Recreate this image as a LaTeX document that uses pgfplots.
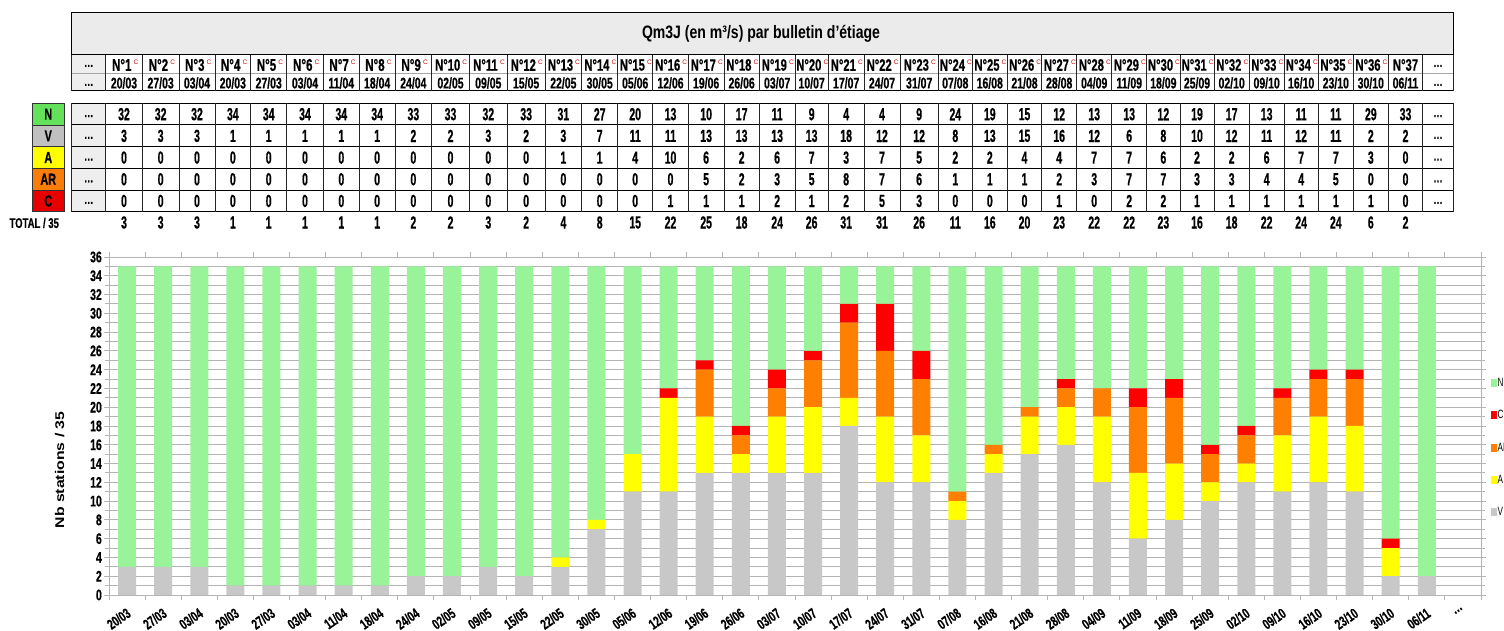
\documentclass[border=0pt]{standalone}
\usepackage{fontspec}
\setmainfont{Liberation Sans}
\newfontfamily\fA[FakeStretch=0.6, BoldFeatures={FakeBold=0.6}]{Liberation Sans}
\newfontfamily\fB[FakeStretch=0.68, BoldFeatures={FakeBold=0.5}]{Liberation Sans}
\newfontfamily\fC[FakeStretch=0.78]{Liberation Sans}
\usepackage{graphicx}
\usepackage{pgfplots}
\usepackage{pgfplotstable}
\pgfplotsset{compat=1.18}

\definecolor{cN}{RGB}{153,243,153}
\definecolor{cV}{RGB}{200,200,200}
\definecolor{cA}{RGB}{255,255,0}
\definecolor{cAR}{RGB}{255,128,0}
\definecolor{cC}{RGB}{255,0,0}
\definecolor{lN}{RGB}{100,225,90}
\definecolor{lV}{RGB}{192,192,192}
\definecolor{lA}{RGB}{255,255,0}
\definecolor{lAR}{RGB}{250,125,10}
\definecolor{lC}{RGB}{230,0,0}
\definecolor{tgray}{RGB}{235,235,235}
\definecolor{dgray}{RGB}{238,238,238}
\definecolor{gridc}{RGB}{180,180,180}
\newcommand{\tdots}{.\kern0.5pt.\kern0.5pt.}

\pgfplotstableread{
i cx d N V A AR C
0 124.0 20/03 32 3 0 0 0
1 160.65 27/03 32 3 0 0 0
2 197.0 03/04 32 3 0 0 0
3 232.85 20/03 34 1 0 0 0
4 268.7 27/03 34 1 0 0 0
5 305.0 03/04 34 1 0 0 0
6 341.3 11/04 34 1 0 0 0
7 377.15 18/04 34 1 0 0 0
8 413.35 24/04 33 2 0 0 0
9 450.5 02/05 33 2 0 0 0
10 488.3 09/05 32 3 0 0 0
11 526.15 15/05 33 2 0 0 0
12 563.35 22/05 31 3 1 0 0
13 599.7 30/05 27 7 1 0 0
14 635.2 05/06 20 11 4 0 0
15 670.5 12/06 13 11 10 0 1
16 706.15 19/06 10 13 6 5 1
17 741.65 26/06 17 13 2 2 1
18 777.15 03/07 11 13 6 3 2
19 811.65 10/07 9 13 7 5 1
20 846.15 17/07 4 18 3 8 2
21 882.0 24/07 4 12 7 7 5
22 919.15 31/07 9 12 5 6 3
23 955.3 07/08 24 8 2 1 0
24 989.8 16/08 19 13 2 1 0
25 1024.5 21/08 15 15 4 1 0
26 1059.2 28/08 12 16 4 2 1
27 1094.2 04/09 13 12 7 3 0
28 1129.2 11/09 13 6 7 7 2
29 1163.35 18/09 12 8 6 7 2
30 1197.0 25/09 19 10 2 3 1
31 1231.65 02/10 17 12 2 3 1
32 1266.65 09/10 13 11 6 4 1
33 1301.15 16/10 11 12 7 4 1
34 1335.8 23/10 11 11 7 5 1
35 1370.8 30/10 29 2 3 0 1
36 1405.5 06/11 33 2 0 0 0
}\data

\begin{document}
\begin{tikzpicture}[x=1pt,y=1pt]
% ---------------- top table (y measured downward) ----------------
\begin{scope}[shift={(0pt,631pt)}, yscale=-1]
  \fill[tgray] (71.7,13) rectangle (1453.3,55);
  \draw[black, line width=1pt] (71.7,55) -- (71.7,13) -- (1453.3,13) -- (1453.3,55);
  \node[font=\fC\bfseries\fontsize{18}{20}\selectfont] at (761,34) {Qm3J (en m³/s) par bulletin d’étiage};
  \fill[dgray] (71.7,55) rectangle (105.7,90.7);
  \draw[black!35, line width=0.8pt] (71.7,73) -- (1453.3,73);
  \draw[black, line width=1pt] (71.7,55) -- (1453.3,55);
  \draw[black, line width=1.2pt] (71.7,90.7) -- (1453.3,90.7);
  \fill[dgray] (71.7,103.3) rectangle (105.7,212);
  \foreach \yy in {103.3,125,146.7,168.4,190.1,212}
    \draw[black, line width=1pt] (71.7,\yy) -- (1453.3,\yy);
  \foreach \xx in {71.7,105.7,142.3,179,215,250.7,286.7,323.3,359.3,395,431.7,469.3,507.3,545,581.7,617.7,652.7,688.3,724,759.3,795,828.3,864,900,938.3,972.3,1007.3,1041.7,1076.7,1111.7,1146.7,1180,1214,1249.3,1284,1318.3,1353.3,1388.3,1422.7,1453.3}{
    \draw[black!85, line width=1pt] (\xx,55) -- (\xx,90.7);
    \draw[black!85, line width=1pt] (\xx,103.3) -- (\xx,212);
  }
  \foreach \yy in {64,83,114.2,135.9,157.6,179.3,201}{
    \node[font=\fB\bfseries\fontsize{13}{14}\selectfont] at (88.7,\yy+2) {\tdots};
    \node[font=\fB\bfseries\fontsize{13}{14}\selectfont] at (1438,\yy+2) {\tdots};
  }
  \foreach \lab/\col/\yy in {N/lN/103.3, V/lV/125, A/lA/146.7, AR/lAR/168.4, C/lC/190.1}{
    \filldraw[fill=\col, draw=black!80, line width=0.8pt] (32.5,\yy) rectangle (64,\yy+21.7);
    \node[font=\fB\bfseries\fontsize{16}{17}\selectfont] at (48.25,\yy+10.85) {\lab};
  }
  \node[anchor=west, font=\fB\bfseries\fontsize{14}{15}\selectfont] at (6,223) {TOTAL / 35};
  \foreach \i in {0,...,36}{
    \pgfplotstablegetelem{\i}{cx}\of\data \edef\cx{\pgfplotsretval}
    \pgfplotstablegetelem{\i}{d}\of\data \edef\dd{\pgfplotsretval}
    \pgfmathtruncatemacro\k{\i+1}
    \ifnum\i<9
      \node[font=\fB\bfseries\fontsize{17}{18}\selectfont] at (\cx-2.2,65) {N°\k};
      \node[text=red!80!black, font=\fontsize{6.5}{7}\selectfont] at (\cx+12,62.5) {C};
    \else\ifnum\i<36
      \node[font=\fB\bfseries\fontsize{16.5}{18}\selectfont] at (\cx-2.8,65) {N°\k};
      \node[text=red!80!black, font=\fontsize{6.5}{7}\selectfont, inner sep=0pt] at (\cx+14.2,62.5) {C};
    \else
      \node[font=\fB\bfseries\fontsize{16.5}{18}\selectfont] at (\cx,65) {N°\k};
    \fi\fi
    \node[font=\fB\bfseries\fontsize{15.4}{16}\selectfont] at (\cx,83) {\dd};
    \pgfplotstablegetelem{\i}{N}\of\data \edef\vN{\pgfplotsretval}
    \pgfplotstablegetelem{\i}{V}\of\data \edef\vV{\pgfplotsretval}
    \pgfplotstablegetelem{\i}{A}\of\data \edef\vA{\pgfplotsretval}
    \pgfplotstablegetelem{\i}{AR}\of\data \edef\vAR{\pgfplotsretval}
    \pgfplotstablegetelem{\i}{C}\of\data \edef\vC{\pgfplotsretval}
    \pgfmathtruncatemacro\tot{\vV+\vA+\vAR+\vC}
    \node[font=\fA\bfseries\fontsize{17.5}{18}\selectfont] at (\cx,114.2) {\vN};
    \node[font=\fA\bfseries\fontsize{17.5}{18}\selectfont] at (\cx,135.9) {\vV};
    \node[font=\fA\bfseries\fontsize{17.5}{18}\selectfont] at (\cx,157.6) {\vA};
    \node[font=\fA\bfseries\fontsize{17.5}{18}\selectfont] at (\cx,179.3) {\vAR};
    \node[font=\fA\bfseries\fontsize{17.5}{18}\selectfont] at (\cx,201) {\vC};
    \node[font=\fA\bfseries\fontsize{17.5}{18}\selectfont] at (\cx,222.5) {\tot};
  }
\end{scope}

% ---------------- stacked bar chart ----------------
\begin{axis}[
  at={(109pt,36pt)}, anchor=south west,
  scale only axis, width=1372pt, height=338pt,
  ybar stacked, bar width=18pt,
  xmin=-0.5, xmax=37.5, ymin=0, ymax=36,
  ytick={0,2,4,6,8,10,12,14,16,18,20,22,24,26,28,30,32,34,36}, minor y tick num=1,
  ymajorgrids, yminorgrids,
  major grid style={gridc, line width=0.9pt},
  minor grid style={gridc, line width=0.9pt},
  xtick={-0.5,0.5,1.5,2.5,3.5,4.5,5.5,6.5,7.5,8.5,9.5,10.5,11.5,12.5,13.5,14.5,15.5,16.5,17.5,18.5,19.5,20.5,21.5,22.5,23.5,24.5,25.5,26.5,27.5,28.5,29.5,30.5,31.5,32.5,33.5,34.5,35.5,36.5,37.5},
  x tick label as interval,
  xticklabels={20/03,27/03,03/04,20/03,27/03,03/04,11/04,18/04,24/04,02/05,09/05,15/05,22/05,30/05,05/06,12/06,19/06,26/06,03/07,10/07,17/07,24/07,31/07,07/08,16/08,21/08,28/08,04/09,11/09,18/09,25/09,02/10,09/10,16/10,23/10,30/10,06/11,\tdots},
  xticklabel style={rotate=35, anchor=north east, font=\fB\bfseries\fontsize{14.5}{15}\selectfont, inner sep=1pt, xshift=-4pt, yshift=-4pt},
  yticklabel style={font=\fB\bfseries\fontsize{15.4}{16}\selectfont, inner sep=2pt},
  /pgf/number format/assume math mode=true,
  tick align=outside,
  major tick length=5pt, minor tick length=4pt,
  tick style={gridc, line width=0.9pt},
  axis line style={gridc, line width=0.9pt},
  ylabel={\scalebox{1}[0.8]{Nb stations / 35}},
  ylabel style={at={(axis description cs:-0.036,0.37)}, anchor=center, font=\bfseries\fontsize{15.8}{17}\selectfont},
  legend image code/.code={\fill[#1] (0pt,-4pt) rectangle (5.5pt,4pt);},
  reverse legend,
  legend style={at={(axis description cs:1.0073,0.436)}, anchor=west, draw=none, fill=none, inner sep=0pt,
    font=\fB\fontsize{12}{13}\selectfont, row sep=20.5pt, nodes={inner sep=1pt}},
  legend cell align=left,
]
\addplot[fill=cV, draw=none] table[x=i, y=V] {\data};
\addplot[fill=cA, draw=none] table[x=i, y=A] {\data};
\addplot[fill=cAR, draw=none] table[x=i, y=AR] {\data};
\addplot[fill=cC, draw=none] table[x=i, y=C] {\data};
\addplot[fill=cN, draw=none] table[x=i, y=N] {\data};
\legend{V,A,AR,C,N}
\end{axis}
\pgfresetboundingbox
\path[use as bounding box] (0pt,0pt) rectangle (1504pt,631pt);
\end{tikzpicture}
\end{document}
